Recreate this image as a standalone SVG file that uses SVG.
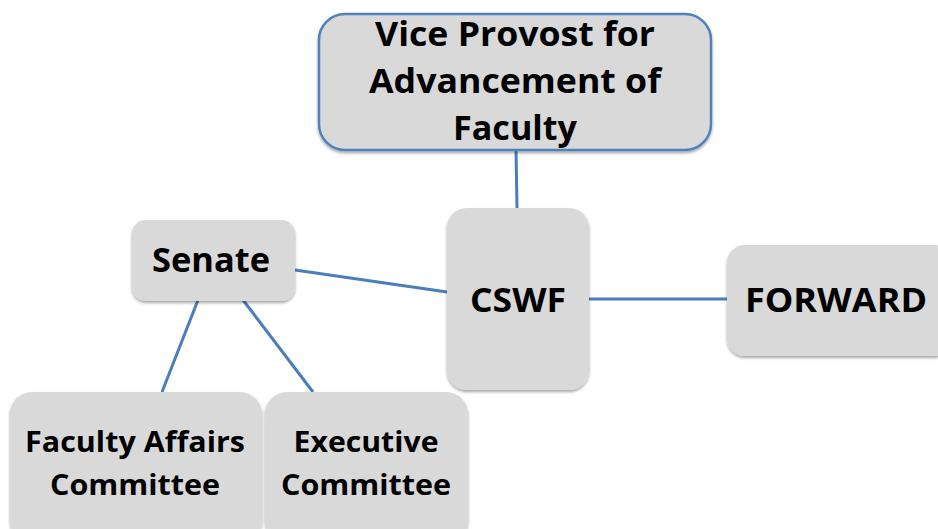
<svg xmlns="http://www.w3.org/2000/svg" width="938" height="529" viewBox="0 0 938 529">
<defs>
<filter id="sh" x="-10%" y="-10%" width="120%" height="130%">
<feDropShadow dx="0" dy="2" stdDeviation="1.5" flood-color="#000" flood-opacity="0.35"/>
</filter>
<style>
.box{fill:#d9d9d9;filter:url(#sh);}
.top{stroke:#4f81bd;stroke-width:2.5;}
.t{font-family:"Open Sans","Liberation Sans",sans-serif;font-weight:700;fill:#000;text-anchor:middle;}
.big{font-size:34px;}
.small{font-size:29px;}
.c{stroke:#4a7ebb;stroke-width:3;fill:none;}
</style>
</defs>
<rect width="938" height="529" fill="#fff"/>
<g id="connectors">
<line class="c" x1="516" y1="150" x2="517" y2="208"/>
<line class="c" x1="295" y1="270" x2="447" y2="292"/>
<line class="c" x1="589" y1="299" x2="727" y2="299"/>
<line class="c" x1="198" y1="300" x2="162" y2="392"/>
<line class="c" x1="243" y1="300" x2="313" y2="392"/>
</g>
<g id="vice-provost">
<rect class="box top" x="319" y="14" width="392" height="136" rx="26"/>
<text class="t big" x="515" y="46" textLength="280" lengthAdjust="spacingAndGlyphs">Vice Provost for</text>
<text class="t big" x="515" y="93" textLength="292" lengthAdjust="spacingAndGlyphs">Advancement of</text>
<text class="t big" x="515" y="140" textLength="124" lengthAdjust="spacingAndGlyphs">Faculty</text>
</g>
<g id="cswf">
<rect class="box" x="447" y="208" width="142" height="182" rx="20"/>
<text class="t big" x="518" y="312" textLength="96" lengthAdjust="spacingAndGlyphs">CSWF</text>
</g>
<g id="senate">
<rect class="box" x="132" y="220" width="163" height="81" rx="14"/>
<text class="t big" x="211" y="272" textLength="118" lengthAdjust="spacingAndGlyphs">Senate</text>
</g>
<g id="forward">
<rect class="box" x="727" y="245" width="225" height="111" rx="18"/>
<text class="t big" x="836" y="312" textLength="182" lengthAdjust="spacingAndGlyphs">FORWARD</text>
</g>
<g id="faculty-affairs">
<rect class="box" x="10" y="392" width="252" height="150" rx="22"/>
<text class="t small" x="135" y="452" textLength="220" lengthAdjust="spacingAndGlyphs">Faculty Affairs</text>
<text class="t small" x="135" y="495" textLength="170" lengthAdjust="spacingAndGlyphs">Committee</text>
</g>
<g id="executive">
<rect class="box" x="265" y="392" width="203" height="150" rx="22"/>
<text class="t small" x="366" y="452" textLength="145" lengthAdjust="spacingAndGlyphs">Executive</text>
<text class="t small" x="366" y="495" textLength="170" lengthAdjust="spacingAndGlyphs">Committee</text>
</g>
</svg>
